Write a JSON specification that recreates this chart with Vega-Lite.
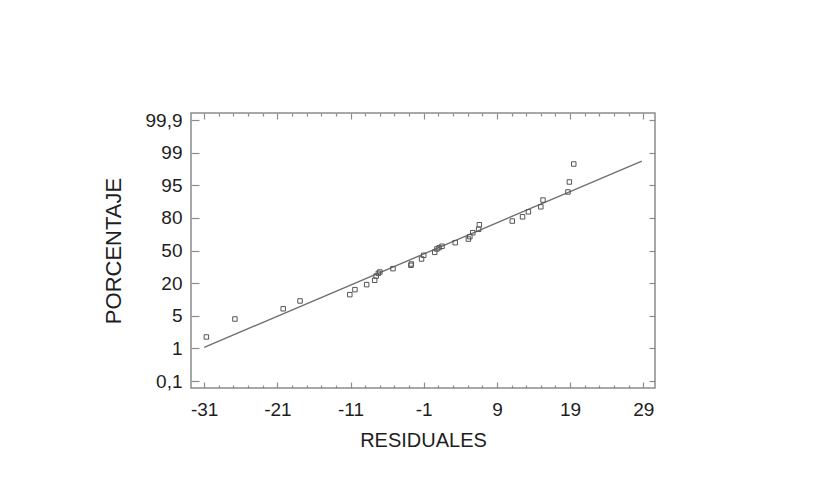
{
  "$schema": "https://vega.github.io/schema/vega-lite/v6.json",
  "width": 464,
  "height": 275,
  "autosize": {"type": "none"},
  "padding": {"left": 191, "top": 113, "right": 168, "bottom": 103},
  "background": "white",
  "config": {
    "view": {"stroke": "#8c8c8c", "strokeWidth": 1.5},
    "font": "Liberation Sans",
    "axis": {
      "domain": false,
      "grid": false,
      "tickColor": "#8c8c8c",
      "tickWidth": 1.2,
      "labelColor": "#1e1e1e",
      "titleColor": "#1e1e1e",
      "labelFont": "Liberation Sans",
      "titleFont": "Liberation Sans",
      "labelFontSize": 19,
      "titleFontSize": 19,
      "titleFontWeight": "normal",
      "labelFlush": false,
      "labelOverlap": false,
      "labelBound": false
    }
  },
  "datasets": {
    "residuos": [
      {"residual": -30.7, "porcentaje": 2.4},
      {"residual": -26.8, "porcentaje": 4.6},
      {"residual": -20.2, "porcentaje": 8.2},
      {"residual": -17.9, "porcentaje": 11.8},
      {"residual": -11.1, "porcentaje": 14.7},
      {"residual": -10.4, "porcentaje": 17.0},
      {"residual": -8.8, "porcentaje": 19.3},
      {"residual": -7.7, "porcentaje": 22.6},
      {"residual": -7.5, "porcentaje": 26.5},
      {"residual": -7.2, "porcentaje": 29.0},
      {"residual": -7.0, "porcentaje": 30.2},
      {"residual": -5.2, "porcentaje": 33.3},
      {"residual": -2.75, "porcentaje": 36.4},
      {"residual": -2.7, "porcentaje": 37.6},
      {"residual": -1.3, "porcentaje": 42.2},
      {"residual": -1.0, "porcentaje": 45.6},
      {"residual": 0.5, "porcentaje": 48.3},
      {"residual": 0.8, "porcentaje": 51.4},
      {"residual": 1.1, "porcentaje": 52.6},
      {"residual": 1.5, "porcentaje": 53.9},
      {"residual": 3.3, "porcentaje": 57.2},
      {"residual": 5.1, "porcentaje": 60.5},
      {"residual": 5.3, "porcentaje": 62.7},
      {"residual": 5.7, "porcentaje": 66.4},
      {"residual": 6.5, "porcentaje": 69.5},
      {"residual": 6.6, "porcentaje": 73.7},
      {"residual": 11.1, "porcentaje": 77.1},
      {"residual": 12.5, "porcentaje": 80.5},
      {"residual": 13.3, "porcentaje": 82.8},
      {"residual": 15.0, "porcentaje": 85.1},
      {"residual": 15.3, "porcentaje": 88.2},
      {"residual": 18.7, "porcentaje": 91.9},
      {"residual": 18.9, "porcentaje": 95.4},
      {"residual": 19.5, "porcentaje": 97.6}
    ],
    "recta": [
      {"residual": -31, "porcentaje": 1.12},
      {"residual": 28.8, "porcentaje": 97.96}
    ]
  },
  "layer": [
    {
      "data": {"name": "recta"},
      "mark": {"type": "line", "color": "#707070", "strokeWidth": 1.4},
      "encoding": {
        "x": {
          "field": "residual",
          "type": "quantitative",
          "scale": {"domain": [-32.8, 30.6], "nice": false, "zero": false},
          "axis": {
            "orient": "top",
            "title": null,
            "labels": false,
            "values": [-31, -29, -27, -25, -23, -21, -19, -17, -15, -13, -11, -9, -7, -5, -3, -1, 1, 3, 5, 7, 9, 11, 13, 15, 17, 19, 21, 23, 25, 27, 29],
            "tickSize": {"condition": {"test": "(datum.value + 31) % 10 === 0", "value": -6}, "value": -3}
          }
        },
        "y": {
          "field": "porcentaje",
          "type": "quantitative",
          "scale": {
            "domain": [0.1, 1, 5, 20, 50, 80, 95, 99, 99.9],
            "range": [268, 235.4, 202.75, 170.1, 137.5, 104.9, 72.25, 39.6, 7],
            "nice": false,
            "zero": false
          },
          "axis": {
            "orient": "right",
            "title": null,
            "labels": false,
            "values": [0.1, 1, 5, 20, 50, 80, 95, 99, 99.9],
            "tickSize": -6
          }
        }
      }
    },
    {
      "data": {"name": "residuos"},
      "mark": {"type": "point", "shape": "square", "filled": false, "size": 20, "color": "#555555", "strokeWidth": 1, "opacity": 1},
      "encoding": {
        "x": {
          "field": "residual",
          "type": "quantitative",
          "scale": {"domain": [-32.8, 30.6], "nice": false, "zero": false},
          "axis": {
            "orient": "bottom",
            "title": "RESIDUALES",
            "titleFontSize": 20,
            "values": [-31, -29, -27, -25, -23, -21, -19, -17, -15, -13, -11, -9, -7, -5, -3, -1, 1, 3, 5, 7, 9, 11, 13, 15, 17, 19, 21, 23, 25, 27, 29],
            "labelExpr": "(datum.value + 31) % 10 === 0 ? toString(datum.value) : ''",
            "tickSize": {"condition": {"test": "(datum.value + 31) % 10 === 0", "value": -6}, "value": -3},
            "labelPadding": 18,
            "titlePadding": 8
          }
        },
        "y": {
          "field": "porcentaje",
          "type": "quantitative",
          "scale": {
            "domain": [0.1, 1, 5, 20, 50, 80, 95, 99, 99.9],
            "range": [268, 235.4, 202.75, 170.1, 137.5, 104.9, 72.25, 39.6, 7],
            "nice": false,
            "zero": false
          },
          "axis": {
            "orient": "left",
            "title": "PORCENTAJE",
            "titleFontSize": 22,
            "values": [0.1, 1, 5, 20, 50, 80, 95, 99, 99.9],
            "labelExpr": "replace(toString(datum.value), '.', ',')",
            "tickSize": -8,
            "labelPadding": 17,
            "titlePadding": 20
          }
        }
      }
    }
  ],
  "resolve": {"axis": {"x": "independent", "y": "independent"}}
}
